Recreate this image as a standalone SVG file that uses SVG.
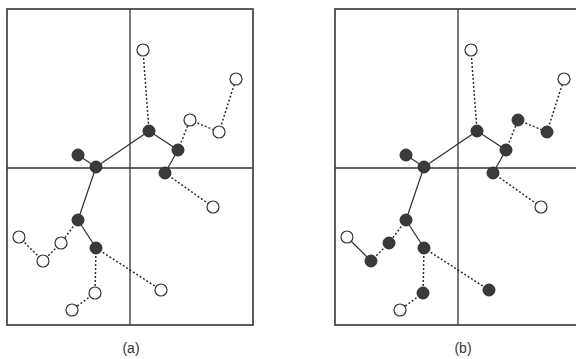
<svg xmlns="http://www.w3.org/2000/svg" width="576" height="359" viewBox="0 0 576 359">
<style>
.frame{fill:none;stroke:#333;stroke-width:1.6}
.grid{stroke:#333;stroke-width:1.3}
.s{stroke:#2e2e2e;stroke-width:1.2;fill:none}
.d{stroke:#2e2e2e;stroke-width:1.5;fill:none;stroke-dasharray:2 2}
.o{fill:#fff;stroke:#333;stroke-width:1.2}
.f{fill:#3a3a3a;stroke:#2e2e2e;stroke-width:1}
.lbl{font-family:"Liberation Sans",Arial,sans-serif;font-size:14px;fill:#333;text-anchor:middle}
</style>
<rect width="576" height="359" fill="#fff"/>
<g id="panel-a-frame">
<rect class="frame" x="7" y="9" width="246" height="316"/>
<line class="grid" x1="130" y1="9" x2="130" y2="325"/>
<line class="grid" x1="7" y1="168" x2="253" y2="168"/>
</g>
<g id="panel-b-frame">
<rect class="frame" x="335" y="9" width="246" height="316"/>
<line class="grid" x1="458" y1="9" x2="458" y2="325"/>
<line class="grid" x1="335" y1="168" x2="581" y2="168"/>
</g>
<g id="connectors">
<line class="s" x1="78" y1="155" x2="96" y2="167"/>
<line class="s" x1="96" y1="167" x2="149" y2="131"/>
<line class="s" x1="149" y1="131" x2="178" y2="150"/>
<line class="s" x1="178" y1="150" x2="165" y2="173"/>
<line class="s" x1="96" y1="167" x2="78" y2="220"/>
<line class="s" x1="78" y1="220" x2="96" y2="248"/>
<line class="d" x1="143" y1="50" x2="149" y2="131"/>
<line class="d" x1="178" y1="150" x2="190" y2="120"/>
<line class="d" x1="190" y1="120" x2="219" y2="132"/>
<line class="d" x1="219" y1="132" x2="236" y2="79"/>
<line class="d" x1="165" y1="173" x2="213" y2="207"/>
<line class="d" x1="78" y1="220" x2="61" y2="243"/>
<line class="d" x1="61" y1="243" x2="43" y2="261"/>
<line class="d" x1="43" y1="261" x2="19" y2="237"/>
<line class="d" x1="96" y1="248" x2="95" y2="293"/>
<line class="d" x1="95" y1="293" x2="72" y2="310"/>
<line class="d" x1="96" y1="248" x2="161" y2="290"/>
<line class="s" x1="406" y1="155" x2="424" y2="167"/>
<line class="s" x1="424" y1="167" x2="477" y2="131"/>
<line class="s" x1="477" y1="131" x2="506" y2="150"/>
<line class="s" x1="506" y1="150" x2="493" y2="173"/>
<line class="s" x1="424" y1="167" x2="406" y2="220"/>
<line class="s" x1="406" y1="220" x2="424" y2="248"/>
<line class="d" x1="471" y1="50" x2="477" y2="131"/>
<line class="d" x1="506" y1="150" x2="518" y2="120"/>
<line class="d" x1="518" y1="120" x2="547" y2="132"/>
<line class="d" x1="547" y1="132" x2="564" y2="79"/>
<line class="d" x1="493" y1="173" x2="541" y2="207"/>
<line class="d" x1="406" y1="220" x2="389" y2="243"/>
<line class="d" x1="389" y1="243" x2="371" y2="261"/>
<line class="s" x1="371" y1="261" x2="347" y2="237"/>
<line class="d" x1="424" y1="248" x2="423" y2="293"/>
<line class="d" x1="423" y1="293" x2="400" y2="310"/>
<line class="d" x1="424" y1="248" x2="489" y2="290"/>
</g>
<g id="nodes-a">
<circle id="a1" class="o" cx="143" cy="50" r="6"/>
<circle id="a2" class="o" cx="236" cy="79" r="6"/>
<circle id="a3" class="o" cx="190" cy="120" r="6"/>
<circle id="a4" class="o" cx="219" cy="132" r="6"/>
<circle id="a5" class="f" cx="149" cy="131" r="6"/>
<circle id="a6" class="f" cx="178" cy="150" r="6"/>
<circle id="a7" class="f" cx="78" cy="155" r="6"/>
<circle id="a8" class="f" cx="96" cy="167" r="6"/>
<circle id="a9" class="f" cx="165" cy="173" r="6"/>
<circle id="a10" class="o" cx="213" cy="207" r="6"/>
<circle id="a11" class="f" cx="78" cy="220" r="6"/>
<circle id="a12" class="o" cx="19" cy="237" r="6"/>
<circle id="a13" class="o" cx="61" cy="243" r="6"/>
<circle id="a14" class="o" cx="43" cy="261" r="6"/>
<circle id="a15" class="f" cx="96" cy="248" r="6"/>
<circle id="a16" class="o" cx="161" cy="290" r="6"/>
<circle id="a17" class="o" cx="95" cy="293" r="6"/>
<circle id="a18" class="o" cx="72" cy="310" r="6"/>
</g>
<g id="nodes-b">
<circle id="b1" class="o" cx="471" cy="50" r="6"/>
<circle id="b2" class="o" cx="564" cy="79" r="6"/>
<circle id="b3" class="f" cx="518" cy="120" r="6"/>
<circle id="b4" class="f" cx="547" cy="132" r="6"/>
<circle id="b5" class="f" cx="477" cy="131" r="6"/>
<circle id="b6" class="f" cx="506" cy="150" r="6"/>
<circle id="b7" class="f" cx="406" cy="155" r="6"/>
<circle id="b8" class="f" cx="424" cy="167" r="6"/>
<circle id="b9" class="f" cx="493" cy="173" r="6"/>
<circle id="b10" class="o" cx="541" cy="207" r="6"/>
<circle id="b11" class="f" cx="406" cy="220" r="6"/>
<circle id="b12" class="o" cx="347" cy="237" r="6"/>
<circle id="b13" class="f" cx="389" cy="243" r="6"/>
<circle id="b14" class="f" cx="371" cy="261" r="6"/>
<circle id="b15" class="f" cx="424" cy="248" r="6"/>
<circle id="b16" class="f" cx="489" cy="290" r="6"/>
<circle id="b17" class="f" cx="423" cy="293" r="6"/>
<circle id="b18" class="o" cx="400" cy="310" r="6"/>
</g>
<g id="labels">
<text class="lbl" x="131" y="353">(a)</text>
<text class="lbl" x="463" y="353">(b)</text>
</g>
</svg>
